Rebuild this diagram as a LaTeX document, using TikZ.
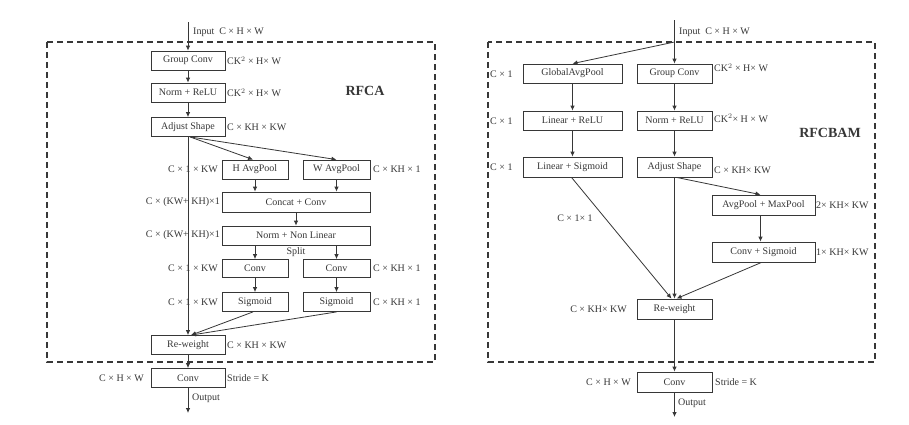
\documentclass[tikz,border=0pt]{standalone}
\usepackage{fontspec}
\setmainfont{Liberation Serif}
\usetikzlibrary{arrows.meta}
\definecolor{ink}{RGB}{55,55,55}
\begin{document}
\begin{tikzpicture}[x=1pt,y=-1pt,
  box/.style={draw=ink,line width=0.8pt,minimum height=19pt,inner sep=0pt,font=\fontsize{10}{12}\selectfont,text=ink},
  lbl/.style={inner sep=1pt,font=\fontsize{10}{12}\selectfont,text=ink},
  ttl/.style={inner sep=1pt,font=\fontsize{14}{16}\selectfont\bfseries,text=ink},
  arr/.style={draw=ink,line width=0.8pt,-{Latex[length=5pt,width=4.5pt]}},
  ln/.style={draw=ink,line width=0.8pt},
  frame/.style={draw=ink,line width=1.3pt,dash pattern=on 6pt off 4pt}]
\useasboundingbox (0,0) rectangle (909,424);
\fill[white] (0,0) rectangle (909,424);

% ---------------- Left: RFCA ----------------
\draw[frame] (47,42) rectangle (435,362);
\coordinate (inL) at (188,22);
\coordinate (outL) at (188,413);
\node[box,minimum width=74pt] (gc) at (188,60.5) {Group Conv};
\node[box,minimum width=74pt] (nr) at (188,92.5) {Norm + ReLU};
\node[box,minimum width=74pt] (as) at (188,127) {Adjust Shape};
\node[box,minimum width=66pt] (hap) at (255,169.5) {H AvgPool};
\node[box,minimum width=67pt] (wap) at (336.5,169.5) {W AvgPool};
\node[box,minimum width=148pt,minimum height=20pt] (cc) at (296,202) {Concat + Conv};
\node[box,minimum width=148pt] (nnl) at (296,235.5) {Norm + Non Linear};
\node[box,minimum width=66pt,minimum height=18pt] (cv1) at (255,268.5) {Conv};
\node[box,minimum width=67pt,minimum height=18pt] (cv2) at (336.5,268.5) {Conv};
\node[box,minimum width=66pt] (sg1) at (255,302) {Sigmoid};
\node[box,minimum width=67pt] (sg2) at (336.5,302) {Sigmoid};
\node[box,minimum width=74pt] (rw) at (188,345) {Re-weight};
\node[box,minimum width=74pt] (cv) at (188,378) {Conv};

\draw[arr] (inL) -- (gc);
\draw[arr] (gc) -- (nr);
\draw[arr] (nr) -- (as);
\draw[arr] ([xshift=2pt]as.south) -- ([xshift=-2pt]hap.north);
\draw[arr] ([xshift=2pt]as.south) -- (wap.north);
\draw[arr] (as.south) -- (rw.north);
\draw[arr] (hap) -- (hap |- cc.north);
\draw[arr] (wap) -- (wap |- cc.north);
\draw[arr] (cc) -- (nnl);
\draw[arr] (nnl.south -| cv1) -- (cv1);
\draw[arr] (nnl.south -| cv2) -- (cv2);
\draw[arr] (cv1) -- (sg1);
\draw[arr] (cv2) -- (sg2);
\draw[arr] ([xshift=-2pt]sg1.south) -- ([xshift=3pt]rw.north);
\draw[arr] (sg2.south) -- ([xshift=3pt]rw.north);
\draw[arr] (rw) -- (cv);
\draw[arr] (cv) -- (outL);

\node[lbl,anchor=west] (tinL) at (192,32) {Input~~C × H × W};
\node[lbl,anchor=west] (t1) at (226,61) {CK$^{2}$ × H× W};
\node[lbl,anchor=west] (t2) at (226,93) {CK$^{2}$ × H× W};
\node[lbl,anchor=west] (t3) at (226,127) {C × KH × KW};
\node[ttl] (tRFCA) at (365,91) {RFCA};
\node[lbl,anchor=east] (t4) at (219,169.5) {C × 1 × KW};
\node[lbl,anchor=west] (t5) at (372,169.5) {C × KH × 1};
\node[lbl,anchor=east] (t6) at (221,202) {C × (KW+ KH)×1};
\node[lbl,anchor=east] (t7) at (221,235.5) {C × (KW+ KH)×1};
\node[lbl] (tsplit) at (296,252) {Split};
\node[lbl,anchor=east] (t8) at (219,268.5) {C × 1 × KW};
\node[lbl,anchor=west] (t9) at (372,268.5) {C × KH × 1};
\node[lbl,anchor=east] (t10) at (219,302) {C × 1 × KW};
\node[lbl,anchor=west] (t11) at (372,302) {C × KH × 1};
\node[lbl,anchor=west] (t12) at (226,345) {C × KH × KW};
\node[lbl,anchor=east] (t13) at (145,378) {C × H × W};
\node[lbl,anchor=west] (t14) at (226,378) {Stride = K};
\node[lbl,anchor=west] (toutL) at (191,398) {Output};

% ---------------- Right: RFCBAM ----------------
\draw[frame] (488,42) rectangle (875,362);
\coordinate (inR) at (674.5,20);
\coordinate (brR) at (674.5,42);
\coordinate (outR) at (674.5,417);
\node[box,minimum width=99pt] (gap) at (572.5,73.5) {GlobalAvgPool};
\node[box,minimum width=75pt] (gc2) at (674.5,73.5) {Group Conv};
\node[box,minimum width=99pt] (lr) at (572.5,120.5) {Linear + ReLU};
\node[box,minimum width=75pt] (nr2) at (674.5,120.5) {Norm + ReLU};
\node[box,minimum width=99pt,minimum height=20pt] (ls) at (572.5,167) {Linear + Sigmoid};
\node[box,minimum width=75pt,minimum height=20pt] (as2) at (674.5,167) {Adjust Shape};
\node[box,minimum width=103pt,minimum height=20pt] (amp) at (763.5,205) {AvgPool + MaxPool};
\node[box,minimum width=103pt,minimum height=20pt] (cs) at (763.5,252) {Conv + Sigmoid};
\node[box,minimum width=75pt,minimum height=20pt] (rw2) at (674.5,309) {Re-weight};
\node[box,minimum width=75pt,minimum height=20pt] (cvb) at (674.5,382) {Conv};

\draw[arr] (inR) -- (gc2);
\draw[arr] (brR) -- (gap.north);
\draw[arr] (gap) -- (lr);
\draw[arr] (lr) -- (ls);
\draw[arr] (gc2) -- (nr2);
\draw[arr] (nr2) -- (as2);
\draw[arr] ([xshift=-1pt]ls.south) -- ([xshift=-3pt]rw2.north);
\draw[arr] (as2.south) -- (rw2.north);
\draw[arr] ([xshift=2pt]as2.south) -- ([xshift=-3pt]amp.north);
\draw[arr] ([xshift=-3pt]amp.south) -- ([xshift=-3pt]cs.north);
\draw[arr] ([xshift=-2pt]cs.south) -- ([xshift=2pt]rw2.north);
\draw[arr] (rw2) -- (cvb);
\draw[arr] (cvb) -- (outR);

\node[lbl,anchor=west] (tinR) at (678,32) {Input~~C × H × W};
\node[lbl,anchor=west] (r1) at (489,74) {C × 1};
\node[lbl,anchor=west] (r2) at (489,121) {C × 1};
\node[lbl,anchor=west] (r3) at (489,167) {C × 1};
\node[lbl,anchor=west] (r4) at (713,68) {CK$^{2}$ × H× W};
\node[lbl,anchor=west] (r5) at (713,118) {CK$^{2}$× H × W};
\node[lbl,anchor=west] (r6) at (713,170) {C × KH× KW};
\node[ttl] (tRFCBAM) at (830,133) {RFCBAM};
\node[lbl,anchor=west] (r7) at (815,205) {2× KH× KW};
\node[lbl,anchor=west] (r8) at (815,252) {1× KH× KW};
\node[lbl] (r9) at (575,218) {C × 1× 1};
\node[lbl,anchor=east] (r10) at (628,309) {C × KH× KW};
\node[lbl,anchor=east] (r11) at (632,382) {C × H × W};
\node[lbl,anchor=west] (r12) at (714,382) {Stride = K};
\node[lbl,anchor=west] (toutR) at (677,403) {Output};
\end{tikzpicture}
\end{document}
